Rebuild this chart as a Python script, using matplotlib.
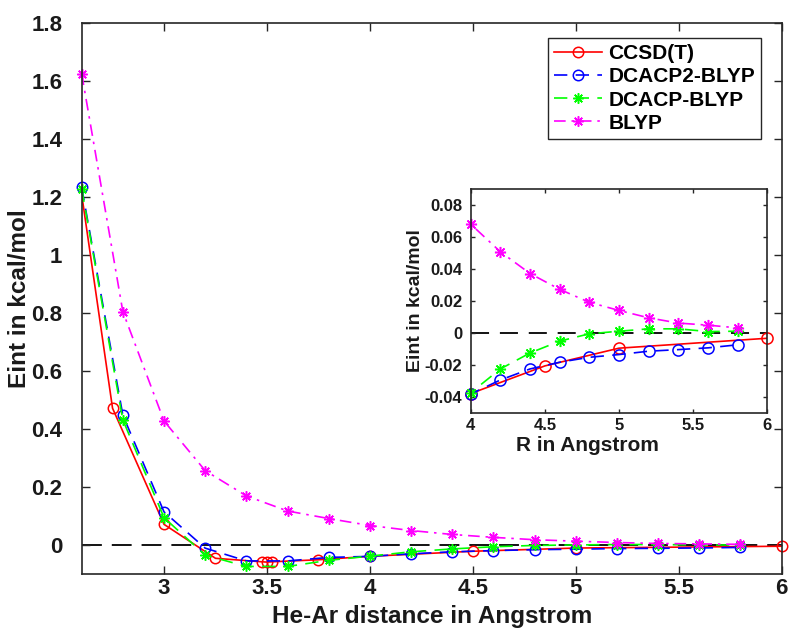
import numpy as np
import matplotlib
matplotlib.use("Agg")
import matplotlib.pyplot as plt
from matplotlib.lines import Line2D

plt.rcParams['font.family'] = ['Liberation Sans', 'DejaVu Sans']
plt.rcParams['font.weight'] = 'bold'

# He-Ar interaction energies (kcal/mol) versus separation (Angstrom)
r_ccsdt = [2.5, 2.75, 3.0, 3.25, 3.475, 3.5, 3.525, 3.75, 4.0, 4.5, 5.0, 6.0]
e_ccsdt = [1.70, 0.472, 0.072, -0.045, -0.057, -0.058, -0.057, -0.050,
           -0.038, -0.0207, -0.0096, -0.0034]

r_dft = [2.6, 2.8, 3.0, 3.2, 3.4, 3.6, 3.8, 4.0, 4.2, 4.4, 4.6, 4.8,
         5.0, 5.2, 5.4, 5.6, 5.8]
e_dcacp2 = [1.233, 0.448, 0.115, -0.010, -0.054, -0.054, -0.042, -0.0383,
            -0.0295, -0.0226, -0.0184, -0.0153, -0.0136, -0.0115, -0.0105,
            -0.0094, -0.0075]
e_dcacp = [1.228, 0.432, 0.095, -0.034, -0.073, -0.073, -0.052, -0.0375,
           -0.0226, -0.0126, -0.0052, -0.0006, 0.0010, 0.0025, 0.0025,
           0.0008, 0.0010]
e_blyp = [1.625, 0.805, 0.428, 0.257, 0.170, 0.118, 0.092, 0.068,
          0.0507, 0.0371, 0.0272, 0.0191, 0.0140, 0.0094, 0.0061,
          0.0048, 0.0031]

labels = ['CCSD(T)', 'DCACP2-BLYP', 'DCACP-BLYP', 'BLYP']

ASTER = (8, 2, 0)
series = [
    (r_ccsdt, e_ccsdt, dict(color='#ff0000', ls='-', marker='o')),
    (r_dft, e_dcacp2, dict(color='#0000ff', ls=(0, (8, 5)), marker='o')),
    (r_dft, e_dcacp, dict(color='#00ff00', ls=(0, (8, 5)), marker=ASTER)),
    (r_dft, e_blyp, dict(color='#ff00ff', ls=(0, (7, 3.5, 1.5, 3.5)), marker=ASTER)),
]

TXT = '#1a1a1a'
SPINE = '#262626'


def draw(ax, xlim, ms, lw, lo, hi, dash):
    for xs, ys, st in series:
        xs = np.asarray(xs)
        ys = np.asarray(ys)
        ax.plot(xs, ys, color=st['color'], ls=st['ls'], lw=lw, clip_on=True)
        m = (xs >= lo - 1e-9) & (xs <= hi + 1e-9)
        ax.plot(xs[m], ys[m], ls='none', marker=st['marker'], ms=ms,
                mfc='none', mec=st['color'], mew=1.1, clip_on=False)
    ax.plot(xlim, [0, 0], color='black', ls=(0, dash), lw=1.3, zorder=1)


def style(ax, tlen, fs, xpad, ypad):
    for s in ax.spines.values():
        s.set_color(SPINE)
        s.set_linewidth(1.2)
    ax.tick_params(direction='in', top=True, right=True, length=tlen,
                   width=1.0, color=SPINE, labelsize=fs, labelcolor=TXT)
    ax.tick_params(axis='x', pad=xpad)
    ax.tick_params(axis='y', pad=ypad)
    for t in ax.get_xticklabels() + ax.get_yticklabels():
        t.set_fontweight('bold')


fig = plt.figure(figsize=(7.89, 6.34), dpi=100)

# main panel
ax = fig.add_axes([0.1035, 0.0942, 0.8872, 0.8700])
draw(ax, [2.6, 6.0], 7.5, 1.2, 2.6, 6.0, (11, 5.5))
ax.set_xlim(2.6, 6.0)
ax.set_ylim(-0.1, 1.8)
ax.set_xticks([3, 3.5, 4, 4.5, 5, 5.5, 6])
ax.set_xticklabels(['3', '3.5', '4', '4.5', '5', '5.5', '6'])
ax.set_yticks(np.round(np.arange(0, 1.81, 0.2), 1))
ax.set_yticklabels(['0', '0.2', '0.4', '0.6', '0.8', '1', '1.2', '1.4',
                    '1.6', '1.8'])
style(ax, 6, 16, 3, 14)
ax.set_xlabel('He-Ar distance in Angstrom', fontsize=17.5, fontweight='bold',
              color=TXT, labelpad=4)
ax.set_ylabel('Eint in kcal/mol', fontsize=17.5, fontweight='bold',
              color=TXT, va='center')
ax.yaxis.set_label_coords(-0.089, 0.5)

handles = [Line2D([], [], color=st['color'], ls=st['ls'], lw=1.2,
                  marker=st['marker'], ms=7.5, mfc='none', mec=st['color'],
                  mew=1.1)
           for _, _, st in series]
leg = ax.legend(handles, labels, loc='upper left',
                bbox_to_anchor=(0.6945, 0.940), bbox_transform=fig.transFigure,
                borderaxespad=0, fancybox=False, edgecolor=SPINE,
                framealpha=1, handlelength=2.3, handletextpad=0.3,
                labelspacing=0.2, borderpad=0.3,
                prop=dict(size=15, weight='bold'))
leg.get_frame().set_linewidth(1.0)
for t in leg.get_texts():
    t.set_color('black')

# inset: long-range tail
axi = fig.add_axes([0.5966, 0.3490, 0.3759, 0.3529])
draw(axi, [4.0, 6.0], 8, 1.2, 4.0, 6.0, (10, 6))
axi.set_xlim(4.0, 6.0)
axi.set_ylim(-0.05, 0.09)
axi.set_xticks([4, 4.5, 5, 5.5, 6])
axi.set_xticklabels(['4', '4.5', '5', '5.5', '6'])
axi.set_yticks([-0.04, -0.02, 0, 0.02, 0.04, 0.06, 0.08])
axi.set_yticklabels(['-0.04', '-0.02', '0', '0.02', '0.04', '0.06', '0.08'])
style(axi, 3, 12, 4, 6)
axi.set_xlabel('R in Angstrom', fontsize=15, fontweight='bold',
               color=TXT, va='center')
axi.xaxis.set_label_coords(0.395, -0.146)
axi.set_ylabel('Eint in kcal/mol', fontsize=14, fontweight='bold',
               color=TXT, va='center')
axi.yaxis.set_label_coords(-0.187, 0.5)

fig.savefig('out.png', dpi=100)
